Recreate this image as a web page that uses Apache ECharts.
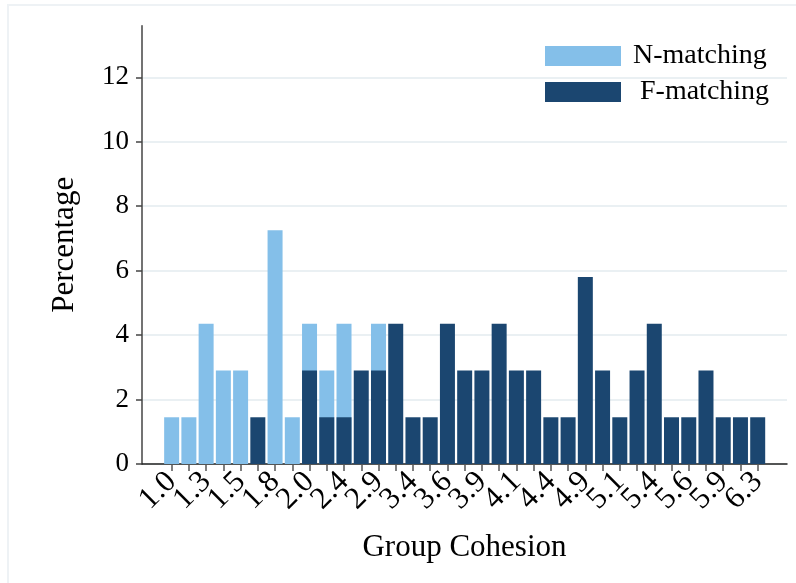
<!DOCTYPE html>
<html>
<head>
<meta charset="utf-8">
<script src="https://cdn.jsdelivr.net/npm/echarts@6/dist/echarts.min.js"></script>
<style>html,body{margin:0;padding:0;background:#fff}#c{width:796px;height:583px}</style>
</head>
<body>
<div id="c"></div>
<script>
var categories = ['1.0','1.1','1.3','1.4','1.5','1.6','1.8','1.9','2.0','2.3','2.4','2.6','2.9','3.1','3.4','3.5','3.6','3.8','3.9','4.0','4.1','4.3','4.4','4.6','4.9','5.0','5.1','5.3','5.4','5.5','5.6','5.8','5.9','6.1','6.3'];
var nMatching = [1.45,1.45,4.35,2.9,2.9,null,7.25,1.45,4.35,2.9,4.35,null,4.35,null,null,null,null,null,null,null,null,null,null,null,null,null,null,null,null,null,null,null,null,null,null];
var fMatching = [null,null,null,null,null,1.45,null,null,2.9,1.45,1.45,2.9,2.9,4.35,1.45,1.45,4.35,2.9,2.9,4.35,2.9,2.9,1.45,1.45,5.8,2.9,1.45,2.9,4.35,1.45,1.45,2.9,1.45,1.45,1.45];
var yTicks = [0,2,4,6,8,10,12];
var seriesNames = ['N-matching','F-matching'];

function toPairs(arr){ var out=[]; for(var i=0;i<arr.length;i++){ if(arr[i]!==null) out.push([i,arr[i]]); } return out; }
var labelA=[], labelB=[], tickIdx=[];
for (var i=0;i<categories.length;i++){ tickIdx.push(i); if(i%4===0) labelA.push(i); else if(i%4===2) labelB.push(i); }

var font = 'Liberation Serif';
var xLabelStyle = {rotate:45, margin:13, showMinLabel:true, showMaxLabel:true, hideOverlap:false,
  fontFamily:font, fontSize:31, color:'#000',
  formatter:function(v){ return categories[Math.round(v)]; }};
var chart = echarts.init(document.getElementById('c'), null, {renderer:'canvas'});
chart.setOption({
  animation:false,
  backgroundColor:'#fff',
  graphic:[{type:'polyline', shape:{points:[[8,583],[8,5],[796,5]]}, style:{stroke:'#eef2f5', lineWidth:2, fill:null}, silent:true}],
  grid:{left:142, right:9, top:25.7, bottom:119},
  legend:{
    orient:'vertical', left:540, top:37, itemWidth:76, itemHeight:20, itemGap:8,
    icon:'rect', data:seriesNames,
    formatter:function(n){ return n==='F-matching' ? ' '+n : n; },
    textStyle:{fontFamily:font, fontSize:28, color:'#000', padding:[0,0,0,7]}
  },
  xAxis:[{
    type:'value', min:-1.72, max:35.7, position:'bottom',
    name:'Group Cohesion', nameLocation:'middle', nameGap:68,
    nameTextStyle:{fontFamily:font, fontSize:31, color:'#000'},
    axisLine:{show:true, onZero:false, lineStyle:{color:'#222', width:1.5}},
    axisTick:{show:true, length:7, customValues:tickIdx, lineStyle:{color:'#555', width:1.5}},
    axisLabel:Object.assign({customValues:labelA}, xLabelStyle),
    splitLine:{show:false}
  },{
    type:'value', min:-1.72, max:35.7, position:'bottom', offset:0,
    axisLine:{show:false, onZero:false},
    axisTick:{show:false},
    axisLabel:Object.assign({customValues:labelB}, xLabelStyle),
    splitLine:{show:false}
  }],
  yAxis:{
    type:'value', min:0, max:13.6,
    name:'Percentage', nameLocation:'middle', nameGap:62,
    nameTextStyle:{fontFamily:font, fontSize:31, color:'#000'},
    axisLine:{show:true, onZero:false, lineStyle:{color:'#444', width:1.5}},
    axisTick:{show:true, length:6, customValues:yTicks, lineStyle:{color:'#444', width:1.5}},
    axisLabel:{show:true, customValues:yTicks, margin:13, showMinLabel:true, fontFamily:font, fontSize:27, color:'#000'},
    splitLine:{show:true, lineStyle:{color:'#eaf0f3', width:2}}
  },
  series:[
    {name:seriesNames[0], type:'bar', data:toPairs(nMatching), barWidth:15, barGap:'-100%', itemStyle:{color:'#84BFE9'}},
    {name:seriesNames[1], type:'bar', data:toPairs(fMatching), barWidth:15, barGap:'-100%', itemStyle:{color:'#1B4670'}}
  ]
});
</script>
</body>
</html>
